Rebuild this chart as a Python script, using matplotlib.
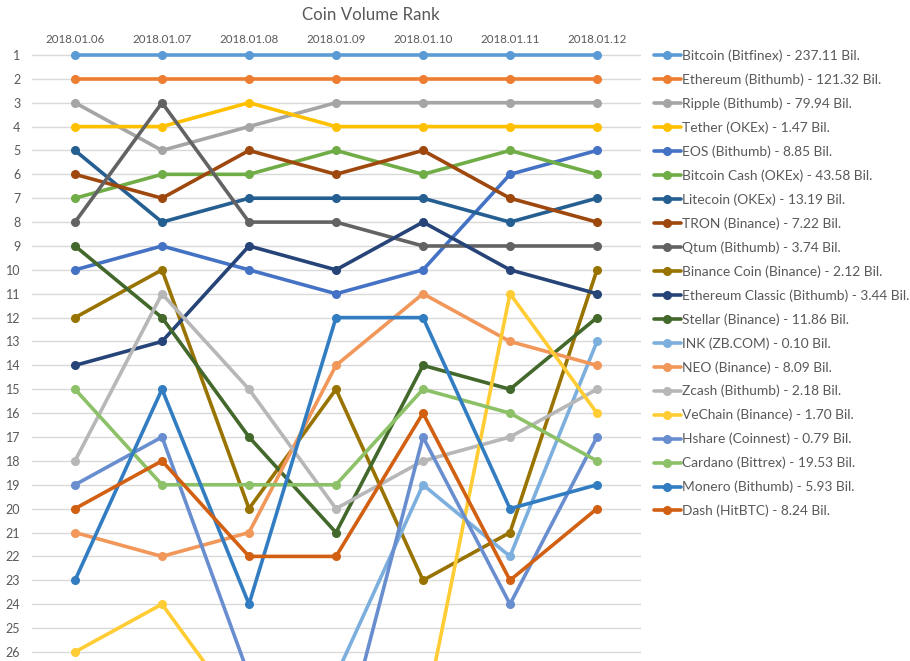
import numpy as np
import matplotlib
matplotlib.use("Agg")
import matplotlib.pyplot as plt

plt.rcParams['font.family'] = ['Lato', 'DejaVu Sans']

dates = ["2018.01.06", "2018.01.07", "2018.01.08", "2018.01.09",
         "2018.01.10", "2018.01.11", "2018.01.12"]

labels = [
    "Bitcoin (Bitfinex) - 237.11 Bil.",
    "Ethereum (Bithumb) - 121.32 Bil.",
    "Ripple (Bithumb) - 79.94 Bil.",
    "Tether (OKEx) - 1.47 Bil.",
    "EOS (Bithumb) - 8.85 Bil.",
    "Bitcoin Cash (OKEx) - 43.58 Bil.",
    "Litecoin (OKEx) - 13.19 Bil.",
    "TRON (Binance) - 7.22 Bil.",
    "Qtum (Bithumb) - 3.74 Bil.",
    "Binance Coin (Binance) - 2.12 Bil.",
    "Ethereum Classic (Bithumb) - 3.44 Bil.",
    "Stellar (Binance) - 11.86 Bil.",
    "INK (ZB.COM) - 0.10 Bil.",
    "NEO (Binance) - 8.09 Bil.",
    "Zcash (Bithumb) - 2.18 Bil.",
    "VeChain (Binance) - 1.70 Bil.",
    "Hshare (Coinnest) - 0.79 Bil.",
    "Cardano (Bittrex) - 19.53 Bil.",
    "Monero (Bithumb) - 5.93 Bil.",
    "Dash (HitBTC) - 8.24 Bil.",
]

# rank per day (ranks > 26 fall below the visible area)
bitcoin = [1, 1, 1, 1, 1, 1, 1]
ethereum = [2, 2, 2, 2, 2, 2, 2]
ripple = [3, 5, 4, 3, 3, 3, 3]
tether = [4, 4, 3, 4, 4, 4, 4]
eos = [10, 9, 10, 11, 10, 6, 5]
bitcoin_cash = [7, 6, 6, 5, 6, 5, 6]
litecoin = [5, 8, 7, 7, 7, 8, 7]
tron = [6, 7, 5, 6, 5, 7, 8]
qtum = [8, 3, 8, 8, 9, 9, 9]
binance_coin = [12, 10, 20, 15, 23, 21, 10]
eth_classic = [14, 13, 9, 10, 8, 10, 11]
stellar = [9, 12, 17, 21, 14, 15, 12]
ink = [33, 31, 30, 27, 19, 22, 13]
neo = [21, 22, 21, 14, 11, 13, 14]
zcash = [18, 11, 15, 20, 18, 17, 15]
vechain = [26, 24, 29, 30, 29, 11, 16]
hshare = [19, 17, 27, 31, 17, 24, 17]
cardano = [15, 19, 19, 19, 15, 16, 18]
monero = [23, 15, 24, 12, 12, 20, 19]
dash = [20, 18, 22, 22, 16, 23, 20]

series = [bitcoin, ethereum, ripple, tether, eos, bitcoin_cash, litecoin, tron,
          qtum, binance_coin, eth_classic, stellar, ink, neo, zcash, vechain,
          hshare, cardano, monero, dash]

colors = ["#5B9BD5", "#ED7D31", "#A5A5A5", "#FFC000", "#4472C4", "#70AD47",
          "#255E91", "#9E480E", "#636363", "#997300", "#264478", "#43682B",
          "#7CAFDD", "#F1975A", "#B7B7B7", "#FFCD33", "#698ED0", "#8CC168",
          "#327DC2", "#D26012"]

fig = plt.figure(figsize=(9.10, 6.61), dpi=100)
ax = fig.add_axes([31.5 / 910, 0.0, 609 / 910, 1 - 43 / 661])

x = np.arange(len(dates))
for vals, lab, col in zip(series, labels, colors):
    ax.plot(x, vals, color=col, lw=2.6, marker='o', ms=5.5, label=lab,
            solid_capstyle='round')

ax.set_xlim(-0.5, len(dates) - 0.5)
ax.set_ylim(26.38, 0.5)
ax.set_yticks(range(1, 27))
ax.set_xticks(x)
ax.set_xticklabels(dates)
ax.xaxis.tick_top()
ax.tick_params(axis='both', length=0, colors='#595959')
ax.tick_params(axis='x', pad=-1.5, labelsize=8.3)
ax.tick_params(axis='y', pad=8, labelsize=9)
ax.grid(axis='y', color='#D9D9D9', lw=1)
ax.set_axisbelow(True)
for s in ax.spines.values():
    s.set_visible(False)

fig.text(371 / 910, 1 - 15 / 661, "Coin Volume Rank", ha='center', va='center',
         fontsize=12.2, color='#595959')

leg = ax.legend(loc='upper left', bbox_to_anchor=(648 / 910, 1 - 44 / 661),
                bbox_transform=fig.transFigure, frameon=False, fontsize=9.9,
                handlelength=2.0, handletextpad=0.1, labelspacing=0.83,
                borderaxespad=0)
for t in leg.get_texts():
    t.set_color('#595959')

fig.savefig("out.png", dpi=100)
